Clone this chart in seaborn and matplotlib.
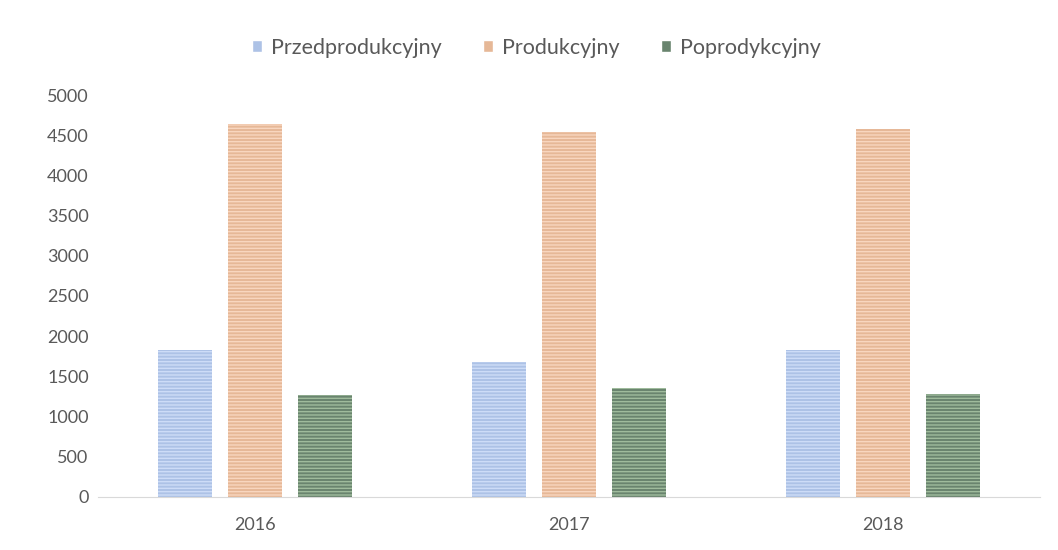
import pandas as pd
import matplotlib.pyplot as plt
import seaborn as sns

# Data
years = ['2016', '2017', '2018']
przedprodukcyjny = [1830, 1680, 1830]
produkcyjny = [4640, 4540, 4580]
poprodukcyjny = [1270, 1350, 1280]

series_names = ['Przedprodukcyjny', 'Produkcyjny', 'Poprodykcyjny']
colors = ['#a3c0f0', '#f3b68a', '#64886b']
hatch_colors = ['#cddcf7', '#f8d6bf', '#9fbb9c']

df = pd.DataFrame({
    'rok': years * 3,
    'wartosc': przedprodukcyjny + produkcyjny + poprodukcyjny,
    'seria': [s for s in series_names for _ in years],
})

sns.set_style('white')
plt.rcParams['font.family'] = ['Lato', 'DejaVu Sans']
plt.rcParams['hatch.linewidth'] = 1.0

fig, ax = plt.subplots(figsize=(10.58, 5.5), dpi=100)
fig.subplots_adjust(left=0.093, right=0.983, top=0.827, bottom=0.097)

sns.barplot(data=df, x='rok', y='wartosc', hue='seria', hue_order=series_names,
            palette=colors, width=0.67, gap=0.23, ax=ax, legend=True)

# horizontal stripes like the original fill
for i, container in enumerate(ax.containers):
    for bar in container:
        bar.set_hatch('-----')
        bar.set_edgecolor(hatch_colors[i])
        bar.set_linewidth(0)

ax.set_ylim(0, 5000)
ax.set_yticks(range(0, 5001, 500))
ax.set_xlabel('')
ax.set_ylabel('')
ax.tick_params(axis='both', labelsize=13, colors='#595959', length=0)
ax.tick_params(axis='y', pad=7)
ax.tick_params(axis='x', pad=15)

for side in ['top', 'right', 'left']:
    ax.spines[side].set_visible(False)
ax.spines['bottom'].set_color('#d9d9d9')

handles, labels = ax.get_legend_handles_labels()
leg = ax.legend(handles, labels, loc='lower center', bbox_to_anchor=(0.465, 1.045),
                ncol=3, frameon=False, fontsize=15.5, handlelength=0.5, handleheight=0.5,
                columnspacing=1.9, handletextpad=0.4)
for t in leg.get_texts():
    t.set_color('#595959')

fig.savefig('out.png', dpi=100, facecolor='white')
